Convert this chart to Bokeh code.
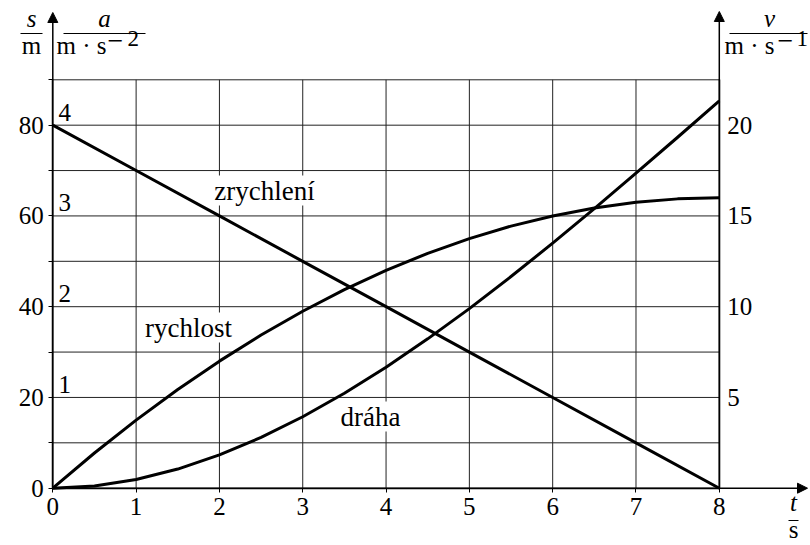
from bokeh.plotting import figure
from bokeh.models import Range1d, LinearAxis, FixedTicker, Arrow, NormalHead, Label
from bokeh.core.properties import value
from bokeh.embed import file_html
from bokeh.resources import INLINE

# ---- data ----
t_vals = [0, 0.5, 1, 1.5, 2, 2.5, 3, 3.5, 4, 4.5, 5, 5.5, 6, 6.5, 7, 7.5, 8]
s_vals = [0, 0.49, 1.92, 4.22, 7.33, 11.2, 15.75, 20.93, 26.67, 32.91, 39.58,
          46.64, 54.0, 61.61, 69.42, 77.34, 85.33]          # dráha [m]
v_vals = [0, 1.94, 3.75, 5.44, 7.0, 8.44, 9.75, 10.94, 12.0, 12.94, 13.75,
          14.44, 15.0, 15.44, 15.75, 15.94, 16.0]           # rychlost [m/s]
a_t = [0, 1, 2, 3, 4, 5, 6, 7, 8]
a_vals = [4, 3.5, 3, 2.5, 2, 1.5, 1, 0.5, 0]                # zrychlení [m/s^2]

x_ticks = [0, 1, 2, 3, 4, 5, 6, 7, 8]
s_ticks = [0, 20, 40, 60, 80]
s_minor = [10, 30, 50, 70, 90]
v_ticks = [5, 10, 15, 20]
a_ticks = [1, 2, 3, 4]

FONT = "Liberation Serif"
FS = "25px"
FW_ = "27px"

# ---- layout: frame fills the canvas; axes pinned at data locations ----
W, H = 810, 545
PX0, PX8 = 52.3, 718.8     # pixel x of t=0 and t=8
PY0, PY90 = 487.7, 79.3    # pixel y of s=0 and s=90
KX = (PX8 - PX0) / 8.0
KY = (PY0 - PY90) / 90.0
V_MAX = 22.5               # v range matching s 0..90
A_MAX = 4.5                # a range matching s 0..90
LABEL_DY = -9              # correction for label baseline placement


def tx(px):
    return (px - PX0) / KX


def sy(py):
    return (PY0 - py) / KY


s_lo, s_hi = sy(H), sy(0)
p = figure(width=W, height=H, x_range=Range1d(tx(0), tx(W)), y_range=Range1d(s_lo, s_hi),
           output_backend="svg", toolbar_location=None, title=None,
           min_border=0, min_border_left=0, min_border_right=0,
           min_border_top=0, min_border_bottom=0)
p.extra_y_ranges = {"v": Range1d(s_lo * V_MAX / 90, s_hi * V_MAX / 90),
                    "a": Range1d(s_lo * A_MAX / 90, s_hi * A_MAX / 90)}
p.outline_line_color = None
p.background_fill_color = "white"
p.border_fill_color = "white"
p.grid.visible = False

GRID = "#222222"
# grid lines from the tick lists
p.segment(x0=x_ticks[1:-1], y0=[0] * (len(x_ticks) - 2), x1=x_ticks[1:-1], y1=[90] * (len(x_ticks) - 2),
          line_color=GRID, line_width=1)
levels = sorted(s_ticks[1:] + s_minor)
p.segment(x0=[0] * len(levels), y0=levels, x1=[8] * len(levels), y1=levels,
          line_color=GRID, line_width=1)


def style_axis(ax):
    ax.axis_line_color = "black"
    ax.axis_line_width = 1.5
    ax.major_tick_line_color = "black"
    ax.minor_tick_line_color = "black"
    ax.major_label_text_font = FONT
    ax.major_label_text_font_size = FS
    ax.major_label_text_color = "black"
    ax.major_tick_in = 0
    ax.minor_tick_in = 0


xa = p.xaxis[0]
style_axis(xa)
xa.ticker = FixedTicker(ticks=x_ticks)
xa.fixed_location = 0
xa.bounds = (0, 8)
xa.major_tick_out = 4
xa.minor_tick_out = 0
xa.major_label_standoff = 6

ya = p.yaxis[0]
style_axis(ya)
ya.ticker = FixedTicker(ticks=s_ticks, minor_ticks=s_minor)
ya.fixed_location = 0
ya.bounds = (0, 90)
ya.major_tick_out = 4
ya.minor_tick_out = 4
ya.major_label_standoff = 5

ra = LinearAxis(y_range_name="v", ticker=FixedTicker(ticks=v_ticks))
style_axis(ra)
ra.fixed_location = 8
ra.bounds = (0, V_MAX)
ra.major_tick_out = 0
ra.minor_tick_out = 0
ra.major_label_standoff = 8
p.add_layout(ra, "right")

# curves
p.line(t_vals, s_vals, line_width=3, line_color="black", line_join="round")
p.line(t_vals, v_vals, y_range_name="v", line_width=3, line_color="black", line_join="round")
p.line(a_t, a_vals, y_range_name="a", line_width=3, line_color="black", line_join="round")

# acceleration scale labels
p.text(x=[tx(58)] * len(a_ticks), y=a_ticks, text=[str(a) for a in a_ticks],
       y_range_name="a", text_font=value(FONT), text_font_size=value(FS),
       text_align="left", text_baseline="alphabetic", y_offset=-13, text_color="black")


def arrow(x0, y0, x1, y1):
    p.add_layout(Arrow(end=NormalHead(size=10, fill_color="black", line_color="black", line_width=1),
                       x_start=x0, y_start=y0, x_end=x1, y_end=y1,
                       line_color="black", line_width=1.5))


arrow(0, 0, 0, sy(12))
arrow(8, 0, 8, sy(11))
arrow(0, 0, tx(807), 0)


def bar(xa_, xb_, y_):
    p.add_layout(Arrow(end=None, start=None, x_start=tx(xa_), y_start=sy(y_), x_end=tx(xb_), y_end=sy(y_),
                       line_color="black", line_width=1))


def lab(px, py, text, size=FS, style="normal", align="center", bg=None):
    p.add_layout(Label(x=tx(px), y=sy(py + LABEL_DY), text=text, text_font=FONT, text_font_size=size,
                       text_font_style=style, text_align=align, text_baseline="alphabetic",
                       text_color="black", background_fill_color=bg))


# unit fractions
lab(31, 27, "s", style="italic")
bar(20, 42, 33)
lab(31, 54, "m")

lab(104, 27, "a", style="italic")
bar(63, 145, 33)
lab(106, 54, "m · s", align="right")
lab(107, 49, "−", size="28px", align="left")
lab(127, 47, "2", size="23px", align="left")

lab(769, 27, "v", style="italic")
bar(729, 807, 33)
lab(774, 54, "m · s", align="right")
lab(777, 49, "−", size="28px", align="left")
lab(796, 47, "1", size="23px", align="left")

lab(793, 511, "t", style="italic")
bar(788, 798, 520)
lab(793, 538, "s")

# curve names
lab(264, 199, "zrychlení", size=FW_, bg="white")
lab(188, 336, "rychlost", size=FW_, bg="white")
lab(370, 425, "dráha", size=FW_, bg="white")

open("out.html", "w").write(file_html(p, INLINE))
